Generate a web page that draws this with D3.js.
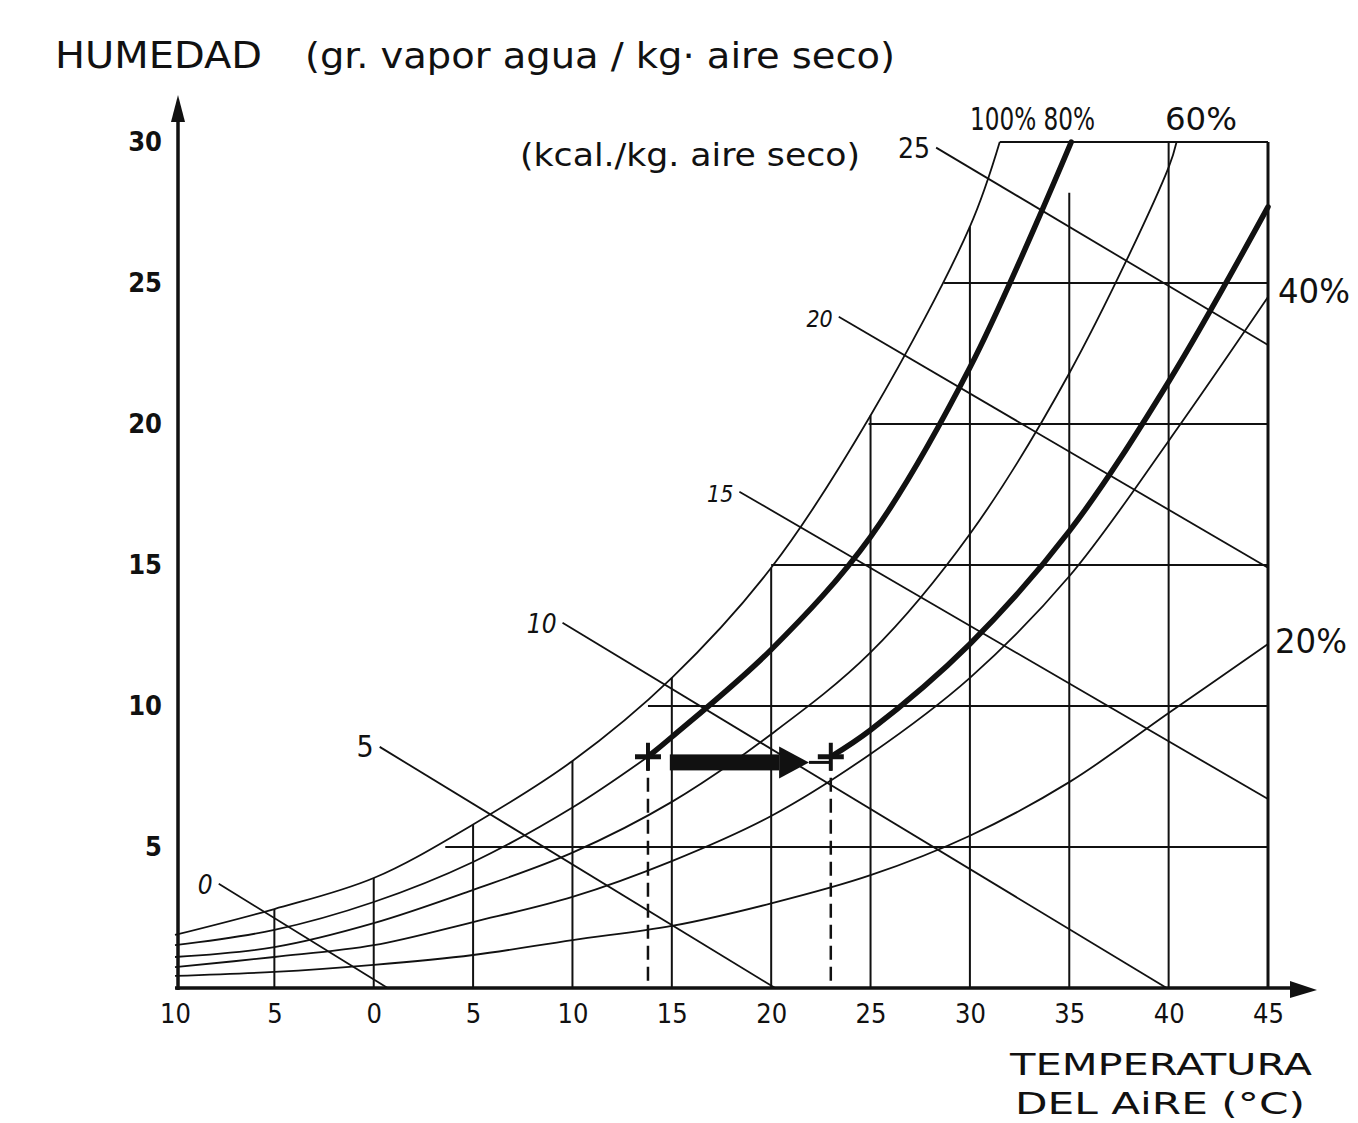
<!DOCTYPE html>
<html>
<head>
<meta charset="utf-8">
<script src="https://cdn.jsdelivr.net/npm/d3@7"></script>
<style>
  body { margin: 0; background: #fff; }
  text { fill: #111; }
</style>
</head>
<body>
<script>
// data (temperature °C, humidity g/kg)
var xTicks = [-10, -5, 0, 5, 10, 15, 20, 25, 30, 35, 40, 45];
var yTicks = [5, 10, 15, 20, 25, 30];

var rh100 = [[-10, 1.88], [-5, 2.8], [0, 3.9], [5, 5.8], [10, 8.05], [15, 11.0], [20, 14.9], [25, 20.3], [30, 27.0], [31.5, 30]];
var rh80thin = [[-10, 1.52], [-5, 2.06], [0, 3.05], [5, 4.47], [10, 6.4], [13.8, 8.2]];
var rh80thick = [[13.8, 8.2], [15, 8.9], [20, 12.0], [25, 16.0], [30, 22.0], [35.1, 30]];
var rh60 = [[-10, 1.10], [-5, 1.45], [0, 2.3], [5, 3.48], [10, 4.8], [15, 6.6], [20, 9.0], [25, 11.9], [30, 16.1], [35, 21.8], [40, 29.1], [40.4, 30]];
var rh40 = [[-10, 0.74], [-5, 1.10], [0, 1.52], [5, 2.34], [10, 3.23], [15, 4.5], [20, 6.1], [25, 8.3], [30, 11.0], [35, 14.6], [40, 19.4], [45, 24.5]];
var rh20 = [[-10, 0.43], [-5, 0.57], [0, 0.82], [5, 1.17], [10, 1.70], [15, 2.2], [20, 3.0], [25, 4.0], [30, 5.4], [35, 7.3], [40, 9.75], [45, 12.2]];
var heated = [[23, 8.2], [25, 9.15], [30, 12.2], [35, 16.2], [40, 21.5], [45, 27.7]];

// enthalpy lines (kcal/kg aire seco)
var enthalpy = ["0", "5", "10", "15", "20", "25"];
var enthalpyStart = [[-7.8, 3.7], [0.3, 8.55], [9.5, 12.95], [18.4, 17.6], [23.4, 23.8], [28.3, 29.8]];
var enthalpyEnd = [[0.7, 0], [20.2, 0], [39.9, 0], [45, 6.7], [45, 14.9], [45, 22.8]];

// grid: verticals go up to the saturation curve, horizontals start on it
var gridTop = [2.8, 3.9, 5.8, 8.05, 11.0, 14.9, 20.3, 27.0, 28.2, 30];   // for -5 .. 40
var gridStart = [3.6, 13.8, 20.0, 24.9, 28.7, 31.5];                      // for 5 .. 30

// the process: two states and the arrow between them
var states = [[13.8, 8.2], [23.0, 8.2]];
var arrowSpan = [14.9, 20.4, 21.9];
var arrowLevel = 8.0;

var body = d3.select("body");

var svg = body.append("svg")
    .attr("width", 1358)
    .attr("height", 1123);

var x = d3.scaleLinear().domain([-10, 45]).range([175, 1268]);
var y = d3.scaleLinear().domain([0, 30]).range([988, 142]);

var line = d3.line()
    .x(function(d) { return x(d[0]); })
    .y(function(d) { return y(d[1]); })
    .curve(d3.curveCatmullRom.alpha(0.5));

var hand = "'DejaVu Sans Condensed', 'DejaVu Sans', sans-serif";
var narrow = "'Liberation Sans Narrow', 'DejaVu Sans Condensed', sans-serif";

// grid
var g = svg.append("g")
    .style("stroke", "#111")
    .style("stroke-width", 2)
    .style("fill", "none");

xTicks.slice(1, 11).forEach(function(t, i) {
  g.append("line")
      .attr("x1", x(t)).attr("x2", x(t))
      .attr("y1", y(0)).attr("y2", y(gridTop[i]));
});

yTicks.forEach(function(v, i) {
  g.append("line")
      .attr("x1", x(gridStart[i])).attr("x2", x(45))
      .attr("y1", y(v)).attr("y2", y(v));
});

// right border
g.append("line")
    .attr("x1", x(45)).attr("x2", x(45))
    .attr("y1", y(0)).attr("y2", y(30))
    .style("stroke-width", 3);

// enthalpy lines
enthalpy.forEach(function(h, i) {
  g.append("line")
      .attr("x1", x(enthalpyStart[i][0])).attr("y1", y(enthalpyStart[i][1]))
      .attr("x2", x(enthalpyEnd[i][0])).attr("y2", y(enthalpyEnd[i][1]))
      .style("stroke-width", 1.8);
});

// humidity curves
[rh100, rh80thin, rh60, rh40, rh20].forEach(function(c) {
  g.append("path")
      .attr("d", line(c))
      .style("stroke-width", 1.8);
});

[rh80thick, heated].forEach(function(c) {
  g.append("path")
      .attr("d", line(c))
      .style("stroke-width", 5.5)
      .style("stroke-linecap", "round");
});

// dashed drops to the temperature axis
states.forEach(function(s) {
  g.append("line")
      .attr("x1", x(s[0])).attr("x2", x(s[0]))
      .attr("y1", y(s[1])).attr("y2", y(0))
      .style("stroke-width", 2.5)
      .style("stroke-dasharray", "14,7");
  // the "+" marks
  g.append("line")
      .attr("x1", x(s[0]) - 13).attr("x2", x(s[0]) + 13)
      .attr("y1", y(s[1])).attr("y2", y(s[1]))
      .style("stroke-width", 5);
  g.append("line")
      .attr("x1", x(s[0])).attr("x2", x(s[0]))
      .attr("y1", y(s[1]) - 14).attr("y2", y(s[1]) + 14)
      .style("stroke-width", 4);
});

// arrow between states
svg.append("rect")
    .attr("x", x(arrowSpan[0]))
    .attr("y", y(arrowLevel) - 8)
    .attr("width", x(arrowSpan[1]) - x(arrowSpan[0]))
    .attr("height", 16)
    .style("fill", "#111");

svg.append("polygon")
    .attr("points", [
        [x(arrowSpan[1]), y(arrowLevel) - 16],
        [x(arrowSpan[2]), y(arrowLevel)],
        [x(arrowSpan[1]), y(arrowLevel) + 16]].join(" "))
    .style("fill", "#111");

g.append("line")
    .attr("x1", x(arrowSpan[2])).attr("x2", x(states[1][0]))
    .attr("y1", y(arrowLevel)).attr("y2", y(arrowLevel))
    .style("stroke-width", 3);

// axes
var axes = svg.append("g")
    .style("stroke", "#111")
    .style("stroke-width", 3.5)
    .style("fill", "none");

axes.append("line")
    .attr("x1", 178).attr("x2", 178)
    .attr("y1", y(0) + 2).attr("y2", 110);
axes.append("line")
    .attr("x1", x(-10)).attr("x2", 1300)
    .attr("y1", y(0)).attr("y2", y(0));

svg.append("polygon")
    .attr("points", "171,122 178,95 185,122")
    .style("fill", "#111");
svg.append("polygon")
    .attr("points", "1290,981 1317,990 1290,998")
    .style("fill", "#111");

var xAxis = d3.axisBottom(x)
    .tickValues(xTicks)
    .tickSize(0)
    .tickPadding(16)
    .tickFormat(function(d) { return Math.abs(d); });

svg.append("g")
    .attr("transform", "translate(0," + y(0) + ")")
    .call(xAxis)
    .call(function(a) { a.select(".domain").remove(); })
    .selectAll("text")
    .style("font-family", hand)
    .style("font-size", "27px")
    .style("fill", "#111");

var yAxis = d3.axisLeft(y)
    .tickValues(yTicks)
    .tickSize(0)
    .tickPadding(16)
    .tickFormat(d3.format("d"));

svg.append("g")
    .attr("transform", "translate(178,0)")
    .call(yAxis)
    .call(function(a) { a.select(".domain").remove(); })
    .selectAll("text")
    .style("font-family", hand)
    .style("font-weight", "bold")
    .style("font-size", "27px")
    .style("fill", "#111");

// enthalpy labels
var hSizes = [26, 30, 26, 23, 23, 28];
enthalpy.forEach(function(h, i) {
  svg.append("text")
      .attr("x", x(enthalpyStart[i][0]) - 6)
      .attr("y", y(enthalpyStart[i][1]) + 10)
      .attr("text-anchor", "end")
      .style("font-family", hand)
      .style("font-style", i == 1 || i == 5 ? "normal" : "italic")
      .style("font-size", hSizes[i] + "px")
      .text(h);
});

// texts
function label(txt, px, py, size, len) {
  var t = svg.append("text")
      .attr("x", px)
      .attr("y", py)
      .style("font-family", narrow)
      .style("font-size", size + "px")
      .text(txt);
  if (len) t.attr("textLength", len).attr("lengthAdjust", "spacingAndGlyphs");
  return t;
}

label("HUMEDAD", 55, 68, 38, 207);
label("(gr. vapor agua / kg· aire seco)", 305, 68, 36, 590);
label("(kcal./kg. aire seco)", 520, 166, 32, 340);
label("100% 80%", 970, 130, 32, 125);
label("60%", 1165, 130, 32, 72);
label("40%", 1278, 303, 34, 72);
label("20%", 1275, 653, 34, 72);
label("TEMPERATURA", 1010, 1075, 31, 302);
label("DEL AiRE (°C)", 1015, 1114, 31, 290);
</script>
</body>
</html>
